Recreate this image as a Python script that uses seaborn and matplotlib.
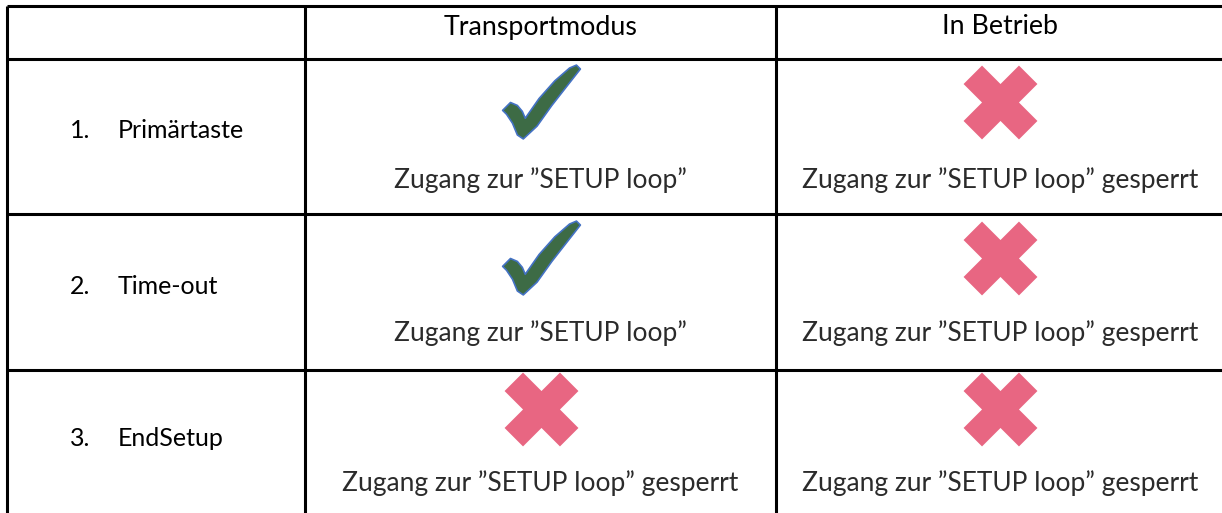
import matplotlib
matplotlib.use("Agg")
import matplotlib.pyplot as plt
from matplotlib.path import Path
import pandas as pd
import seaborn as sns

# table content
modes = ["Transportmodus", "In Betrieb"]
steps = ["Primärtaste", "Time-out", "EndSetup"]
access = [[True, False], [True, False], [False, False]]
note_open = "Zugang zur \u201dSETUP loop\u201d"
note_locked = "Zugang zur \u201dSETUP loop\u201d gesperrt"

sns.set_theme(style="white")
plt.rcParams["font.family"] = ["Lato", "DejaVu Sans"]

# grid layout in pixels (y grows downwards)
col_edges = [7, 305, 776, 1224]
row_edges = [6, 59, 214, 370, 520]
sym_off = [43, 44, 39]
txt_off = [121, 119, 113]

rows = []
for i, step in enumerate(steps):
    top = row_edges[i + 1]
    for j, mode in enumerate(modes):
        ok = access[i][j]
        rows.append({
            "step": step, "mode": mode, "ok": ok,
            "x": (col_edges[j + 1] + col_edges[j + 2]) / 2,
            "y_sym": top + sym_off[i],
            "y_txt": top + txt_off[i],
            "note": note_open if ok else note_locked,
        })
df = pd.DataFrame(rows)

# check mark outline, centred, y up
check_pts = [(503, 109), (511, 101), (518, 104), (523, 110), (526, 117),
             (540, 97), (556, 79), (571, 66), (578, 63), (582, 67),
             (571, 81), (553, 104), (538, 125), (524, 138), (518, 134),
             (513, 122), (507, 113), (503, 109)]
check_path = Path([(x - 542.5, -(y - 101)) for x, y in check_pts], closed=True)

fig = plt.figure(figsize=(12.22, 5.13), dpi=100)
ax = fig.add_axes([0, 0, 1, 1])

lw = 2.2
ax.hlines(row_edges[:-1], col_edges[0], 1222, color="black", lw=lw)
ax.vlines(col_edges[:-1], row_edges[0], 513, color="black", lw=lw)

sns.scatterplot(data=df[df["ok"]], x="x", y="y_sym", marker=check_path,
                s=3136, color="#3D6B45", edgecolor="#4472C4", linewidth=1.2,
                ax=ax, legend=False, zorder=3)
sns.scatterplot(data=df[~df["ok"]], x="x", y="y_sym", marker="X",
                s=2830, color="#E86682", linewidth=0, ax=ax,
                legend=False, zorder=3)
ax.set_xlim(0, 1222)
ax.set_ylim(513, 0)
ax.axis("off")

for _, r in df.iterrows():
    ax.text(r["x"], r["y_txt"], r["note"], ha="center", va="center",
            fontsize=19, color="#2b2b2b")

for j, mode in enumerate(modes):
    ax.text((col_edges[j + 1] + col_edges[j + 2]) / 2, 27, mode,
            ha="center", va="center", fontsize=19.3, color="black")

for i, step in enumerate(steps):
    yc = (row_edges[i + 1] + row_edges[i + 2]) / 2 - 6
    ax.text(70, yc, f"{i + 1}.", ha="left", va="center", fontsize=18, color="black")
    ax.text(118, yc, step, ha="left", va="center", fontsize=18, color="black")

fig.savefig("out.png", dpi=100)
